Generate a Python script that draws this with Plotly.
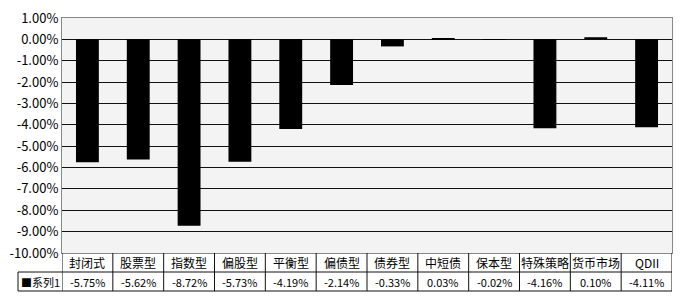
import plotly.graph_objects as go

categories = ["封闭式", "股票型", "指数型", "偏股型", "平衡型", "偏债型", "债券型", "中短债", "保本型", "特殊策略", "货币市场", "QDII"]
values = [-5.75, -5.62, -8.72, -5.73, -4.19, -2.14, -0.33, 0.03, -0.02, -4.16, 0.10, -4.11]
series_name = "系列1"
y_ticks = [1, 0, -1, -2, -3, -4, -5, -6, -7, -8, -9, -10]

FONT = "SimSun, 'Noto Sans CJK SC', sans-serif"
W, H = 680, 301
L, R, T, B = 62, 8, 18, 48
PW, PH = W - L - R, H - T - B

def py(p):  # pixel y -> paper y
    return (H - B - p) / PH

def px(p):  # pixel x -> paper x
    return (p - L) / PW

fig = go.Figure()
fig.add_trace(go.Bar(x=list(range(len(categories))), y=values, marker=dict(color="black", line=dict(width=0)),
                     width=0.45, name=series_name, showlegend=False))

shapes = []
line_c = "#111"
y_mid = py(272)
y_bot = py(291)
y_top = 0
shapes.append(dict(type="line", xref="paper", yref="paper", x0=px(18), x1=1, y0=y_mid, y1=y_mid, line=dict(color=line_c, width=1)))
shapes.append(dict(type="line", xref="paper", yref="paper", x0=px(18), x1=1, y0=y_bot, y1=y_bot, line=dict(color=line_c, width=1)))
shapes.append(dict(type="line", xref="paper", yref="paper", x0=px(18), x1=px(18), y0=y_mid, y1=y_bot, line=dict(color=line_c, width=1)))
for i in range(len(categories) + 1):
    shapes.append(dict(type="line", xref="x", yref="paper", x0=i - 0.5, x1=i - 0.5, y0=y_top, y1=y_bot,
                       line=dict(color=line_c, width=1)))
fig.update_layout(shapes=shapes)

ann = []
for i, (c, v) in enumerate(zip(categories, values)):
    ann.append(dict(x=i, y=(y_top + y_mid) / 2, xref="x", yref="paper", text=c, showarrow=False,
                    font=dict(size=12, color="black", family=FONT), yanchor="middle"))
    ann.append(dict(x=i, y=(y_mid + y_bot) / 2, xref="x", yref="paper", text=f"{v:.2f}%", showarrow=False,
                    font=dict(size=11, color="black", family=FONT), yanchor="middle"))
ann.append(dict(x=px(19), y=(y_mid + y_bot) / 2, xref="paper", yref="paper", text="■" + series_name,
                showarrow=False, xanchor="left", font=dict(size=11, color="black", family=FONT), yanchor="middle"))
fig.update_layout(annotations=ann)

fig.update_layout(
    width=W, height=H,
    margin=dict(l=L, r=R, t=T, b=B),
    paper_bgcolor="white",
    plot_bgcolor="#f3f3f3",
    font=dict(family=FONT, size=12, color="black"),
    bargap=0.55,
    xaxis=dict(range=[-0.5, len(categories) - 0.5], showticklabels=False, showgrid=False, zeroline=False,
               showline=True, linecolor="#888", mirror=True, ticks=""),
    yaxis=dict(range=[-10, 1], tickvals=y_ticks, ticktext=[f"{t:.2f}%" for t in y_ticks],
               showgrid=True, gridcolor="#111", gridwidth=1, zeroline=False,
               showline=True, linecolor="#888", mirror=True, ticks="",
               tickfont=dict(size=13, family=FONT)),
)

fig.write_html("out.html")
